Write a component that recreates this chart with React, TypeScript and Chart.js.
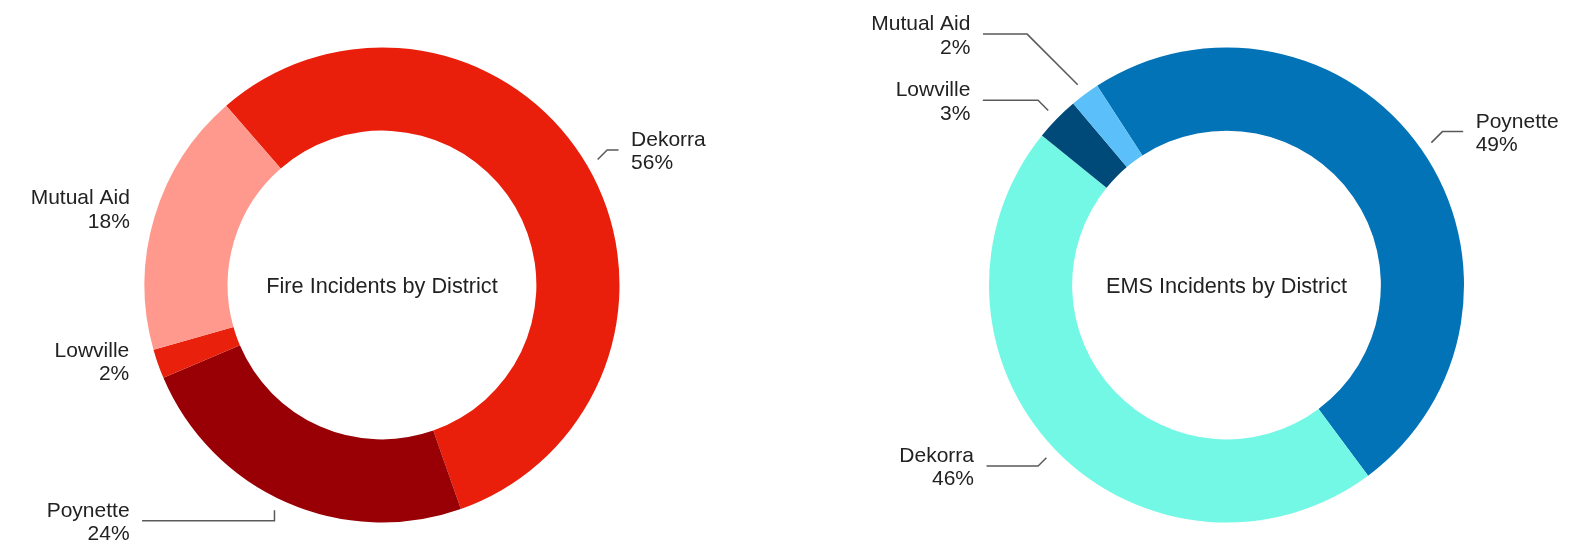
import React, { useEffect, useRef } from "react";
import { Chart, registerables } from "chart.js";

Chart.register(...registerables);

// ---------- data ----------
const fireTitle = "Fire Incidents by District";
const fireLabels = ["Dekorra", "Poynette", "Lowville", "Mutual Aid"];
const fireValues = [56, 24, 2, 18];
const fireColors = ["#E91E0B", "#990005", "#E8200C", "#FF998E"];

const emsTitle = "EMS Incidents by District";
const emsLabels = ["Poynette", "Dekorra", "Lowville", "Mutual Aid"];
const emsValues = [49, 46, 3, 2];
const emsColors = ["#0273B7", "#74F8E6", "#004A7A", "#5BC0F9"];

// ---------- callout layout (offsets from each arc's outer anchor point) ----------
type Callout = { dx: number; dy: number; leader: "diag" | "vert" | "none"; t?: number };
const fireCallouts: Callout[] = [
  { dx: 33.4, dy: -9.5, leader: "diag" },
  { dx: -144.9, dy: 10.7, leader: "vert", t: 0.52 },
  { dx: -17.4, dy: -7, leader: "none" },
  { dx: -13, dy: -5.7, leader: "none" },
];
const emsCallouts: Callout[] = [
  { dx: 44.3, dy: -11, leader: "diag" },
  { dx: -72.4, dy: 8.3, leader: "diag" },
  { dx: -77.9, dy: -10.2, leader: "diag" },
  { dx: -107.3, dy: -50.6, leader: "diag" },
];

const FONT = '21px "Liberation Sans", Arial, Helvetica, sans-serif';
const TITLE_FONT = '21.7px "Liberation Sans", Arial, Helvetica, sans-serif';
const TEXT_COLOR = "#222222";
const LINE_COLOR = "#5a5a5a";

const calloutPlugin = {
  id: "calloutPlugin",
  afterDraw(chart: any) {
    const opts = chart.options.plugins.calloutPlugin || {};
    const callouts: Callout[] = opts.callouts || [];
    const title: string = opts.title || "";
    const ctx = chart.ctx;
    const meta = chart.getDatasetMeta(0);
    const data: number[] = chart.data.datasets[0].data;
    const labels: string[] = chart.data.labels;
    const total = data.reduce((a, b) => a + b, 0);
    ctx.save();
    ctx.font = FONT;
    ctx.fillStyle = TEXT_COLOR;
    meta.data.forEach((arc: any, i: number) => {
      const p = arc.getProps(["x", "y", "startAngle", "endAngle", "outerRadius"], true);
      const c = callouts[i];
      if (!c) return;
      const t = c.t ?? 0.5;
      const ang = p.startAngle + (p.endAngle - p.startAngle) * t;
      const r = p.outerRadius + 12;
      const ax = p.x + Math.cos(ang) * r;
      const ay = p.y + Math.sin(ang) * r;
      const sign = c.dx >= 0 ? 1 : -1;
      const tx = ax + c.dx;
      const ty = ay + c.dy;
      if (c.leader !== "none") {
        const ex = c.leader === "diag" ? ax + sign * Math.abs(c.dy) : ax;
        ctx.beginPath();
        ctx.strokeStyle = LINE_COLOR;
        ctx.lineWidth = 1.5;
        ctx.moveTo(ax, ay);
        ctx.lineTo(ex, ty);
        ctx.lineTo(tx - sign * 12.5, ty);
        ctx.stroke();
      }
      ctx.textAlign = sign > 0 ? "left" : "right";
      ctx.textBaseline = "alphabetic";
      const pct = Math.round((data[i] / total) * 100) + "%";
      ctx.fillText(labels[i], tx, ty - 4);
      ctx.fillText(pct, tx, ty + 19.5);
    });
    if (meta.data.length) {
      const a0 = meta.data[0];
      ctx.font = TITLE_FONT;
      ctx.textAlign = "center";
      ctx.textBaseline = "alphabetic";
      ctx.fillText(title, a0.x, a0.y + 7.8);
    }
    ctx.restore();
  },
};

type DonutProps = {
  labels: string[];
  values: number[];
  colors: string[];
  rotation: number;
  title: string;
  callouts: Callout[];
  padding: { left: number; right: number; top: number; bottom: number };
};

function Donut(props: DonutProps) {
  const ref = useRef<HTMLCanvasElement | null>(null);
  useEffect(() => {
    if (!ref.current) return;
    const chart = new Chart(ref.current, {
      type: "doughnut",
      data: {
        labels: props.labels,
        datasets: [
          {
            data: props.values,
            backgroundColor: props.colors,
            borderWidth: 0,
            hoverOffset: 0,
          },
        ],
      },
      options: {
        responsive: false,
        animation: false,
        rotation: props.rotation,
        cutout: "65%",
        layout: { padding: props.padding },
        events: [],
        plugins: {
          legend: { display: false },
          tooltip: { enabled: false },
          calloutPlugin: { callouts: props.callouts, title: props.title },
        } as any,
      },
      plugins: [calloutPlugin],
    });
    return () => chart.destroy();
  }, []);
  return (
    <canvas
      ref={ref}
      width={787}
      height={544}
      style={{ width: 787, height: 544, display: "block" }}
    />
  );
}

export default function App() {
  return (
    <div
      style={{
        position: "absolute",
        left: 0,
        top: 0,
        width: 1574,
        height: 544,
        display: "flex",
        background: "#ffffff",
      }}
    >
      <Donut
        labels={fireLabels}
        values={fireValues}
        colors={fireColors}
        rotation={-41}
        title={fireTitle}
        callouts={fireCallouts}
        padding={{ left: 144.5, right: 167.5, top: 47.5, bottom: 21.5 }}
      />
      <Donut
        labels={emsLabels}
        values={emsValues}
        colors={emsColors}
        rotation={-33}
        title={emsTitle}
        callouts={emsCallouts}
        padding={{ left: 202, right: 110, top: 47.5, bottom: 21.5 }}
      />
    </div>
  );
}
